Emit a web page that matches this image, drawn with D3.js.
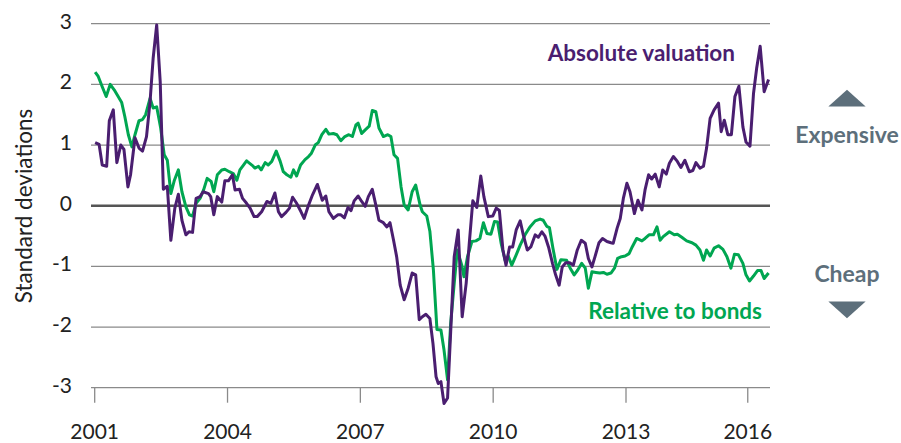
<!DOCTYPE html>
<html>
<head>
<meta charset="utf-8">
<script src="https://cdn.jsdelivr.net/npm/d3@7"></script>
<style>
  body { margin: 0; background: #fff; }
  text { font-family: Lato, "Open Sans", sans-serif; }
</style>
</head>
<body>
<div id="chart"></div>
<script>
// decimal year, standard deviations
const absolute = [[2001.01,1.04],[2001.10,1.01],[2001.17,0.67],[2001.27,0.65],[2001.33,1.40],[2001.42,1.58],[2001.50,0.71],[2001.59,1.00],[2001.66,0.93],[2001.75,0.31],[2001.81,0.51],[2001.91,1.12],[2002.00,0.95],[2002.08,0.90],[2002.17,1.14],[2002.25,1.71],[2002.32,2.43],[2002.40,2.98],[2002.48,2.04],[2002.55,0.27],[2002.64,0.32],[2002.72,-0.57],[2002.81,-0.04],[2002.89,0.19],[2002.97,-0.24],[2003.06,-0.48],[2003.13,-0.43],[2003.21,-0.44],[2003.29,0.12],[2003.38,0.15],[2003.45,0.23],[2003.57,0.20],[2003.62,0.15],[2003.69,-0.15],[2003.77,0.15],[2003.87,0.06],[2003.94,0.41],[2004.02,0.41],[2004.11,0.51],[2004.17,0.26],[2004.27,0.27],[2004.34,0.12],[2004.43,0.04],[2004.51,-0.04],[2004.60,-0.18],[2004.67,-0.18],[2004.77,-0.10],[2004.89,0.07],[2004.98,0.04],[2005.07,0.21],[2005.15,-0.10],[2005.22,-0.18],[2005.32,-0.11],[2005.40,-0.04],[2005.47,0.14],[2005.56,0.04],[2005.66,-0.10],[2005.73,-0.21],[2005.83,0.01],[2005.92,0.18],[2006.03,0.35],[2006.14,0.09],[2006.22,0.16],[2006.29,-0.10],[2006.39,-0.21],[2006.49,-0.15],[2006.56,-0.15],[2006.64,-0.20],[2006.72,-0.03],[2006.79,-0.08],[2006.86,0.08],[2006.95,0.16],[2007.03,0.07],[2007.11,-0.01],[2007.18,0.15],[2007.27,0.27],[2007.35,0.01],[2007.42,-0.24],[2007.52,-0.28],[2007.60,-0.35],[2007.67,-0.28],[2007.75,-0.57],[2007.82,-0.84],[2007.90,-1.31],[2007.99,-1.55],[2008.08,-1.36],[2008.17,-1.11],[2008.25,-1.14],[2008.33,-1.88],[2008.40,-1.83],[2008.48,-1.79],[2008.57,-1.86],[2008.64,-2.27],[2008.71,-2.82],[2008.76,-2.93],[2008.82,-2.90],[2008.89,-3.26],[2008.97,-3.17],[2009.04,-2.08],[2009.12,-0.84],[2009.21,-0.40],[2009.30,-1.83],[2009.39,-1.28],[2009.46,-0.62],[2009.54,0.08],[2009.63,-0.03],[2009.72,0.49],[2009.79,0.15],[2009.89,-0.18],[2009.99,-0.17],[2010.07,-0.04],[2010.14,-0.08],[2010.22,-0.73],[2010.29,-0.98],[2010.37,-0.68],[2010.44,-0.68],[2010.52,-0.40],[2010.61,-0.25],[2010.68,-0.48],[2010.77,-0.73],[2010.85,-0.68],[2010.95,-0.48],[2011.02,-0.52],[2011.10,-0.43],[2011.17,-0.50],[2011.25,-0.68],[2011.34,-0.95],[2011.41,-1.14],[2011.49,-1.31],[2011.56,-1.01],[2011.64,-0.94],[2011.73,-0.94],[2011.81,-0.98],[2011.90,-0.73],[2011.99,-0.57],[2012.08,-0.62],[2012.15,-0.87],[2012.23,-1.01],[2012.30,-0.84],[2012.39,-0.61],[2012.47,-0.54],[2012.57,-0.59],[2012.66,-0.61],[2012.71,-0.62],[2012.80,-0.37],[2012.87,-0.21],[2012.94,0.12],[2013.02,0.37],[2013.09,0.23],[2013.19,-0.13],[2013.27,0.09],[2013.36,-0.07],[2013.43,0.26],[2013.51,0.51],[2013.58,0.44],[2013.66,0.52],[2013.75,0.31],[2013.83,0.59],[2013.91,0.52],[2013.98,0.70],[2014.07,0.81],[2014.16,0.73],[2014.24,0.63],[2014.33,0.75],[2014.43,0.56],[2014.51,0.58],[2014.58,0.71],[2014.67,0.62],[2014.75,0.65],[2014.82,0.95],[2014.90,1.44],[2014.99,1.58],[2015.09,1.69],[2015.15,1.22],[2015.22,1.41],[2015.30,1.17],[2015.38,1.17],[2015.46,1.80],[2015.55,1.97],[2015.64,1.30],[2015.71,1.05],[2015.80,0.98],[2015.88,1.85],[2015.95,2.26],[2016.03,2.63],[2016.12,1.88],[2016.22,2.08]];

const relative = [[2001.01,2.20],[2001.08,2.13],[2001.17,1.96],[2001.26,1.80],[2001.35,2.00],[2001.44,1.91],[2001.53,1.80],[2001.61,1.70],[2001.68,1.47],[2001.76,1.17],[2001.84,0.97],[2001.91,1.17],[2002.00,1.40],[2002.08,1.42],[2002.15,1.50],[2002.25,1.77],[2002.32,1.61],[2002.40,1.63],[2002.49,1.28],[2002.57,0.84],[2002.64,0.75],[2002.72,0.20],[2002.80,0.42],[2002.89,0.59],[2002.97,0.23],[2003.06,-0.02],[2003.14,-0.15],[2003.21,-0.17],[2003.29,0.04],[2003.38,0.12],[2003.46,0.26],[2003.54,0.45],[2003.63,0.40],[2003.69,0.23],[2003.77,0.51],[2003.87,0.59],[2003.94,0.60],[2004.04,0.56],[2004.13,0.53],[2004.21,0.42],[2004.28,0.59],[2004.36,0.67],[2004.43,0.74],[2004.55,0.67],[2004.62,0.62],[2004.70,0.65],[2004.76,0.59],[2004.85,0.71],[2004.92,0.67],[2005.00,0.73],[2005.10,0.90],[2005.19,0.73],[2005.26,0.56],[2005.34,0.51],[2005.43,0.47],[2005.49,0.59],[2005.56,0.49],[2005.65,0.67],[2005.75,0.76],[2005.83,0.81],[2005.89,0.86],[2005.98,1.00],[2006.05,1.04],[2006.13,1.17],[2006.22,1.26],[2006.29,1.18],[2006.39,1.19],[2006.47,1.17],[2006.56,1.07],[2006.65,1.14],[2006.74,1.17],[2006.82,1.14],[2006.90,1.33],[2006.95,1.36],[2007.03,1.19],[2007.11,1.25],[2007.20,1.31],[2007.27,1.57],[2007.35,1.55],[2007.42,1.28],[2007.52,1.14],[2007.62,1.17],[2007.69,1.14],[2007.76,0.84],[2007.84,0.78],[2007.92,0.31],[2007.99,0.01],[2008.08,-0.07],[2008.17,0.23],[2008.25,0.34],[2008.35,0.01],[2008.40,-0.10],[2008.50,-0.17],[2008.57,-0.42],[2008.65,-1.06],[2008.73,-2.04],[2008.82,-2.05],[2008.89,-2.38],[2008.97,-2.87],[2009.04,-1.94],[2009.12,-1.28],[2009.19,-0.73],[2009.29,-0.98],[2009.34,-1.17],[2009.42,-0.84],[2009.52,-0.59],[2009.61,-0.58],[2009.70,-0.54],[2009.78,-0.28],[2009.86,-0.46],[2009.95,-0.47],[2010.03,-0.26],[2010.10,-0.27],[2010.18,-0.62],[2010.27,-0.90],[2010.34,-0.83],[2010.42,-0.98],[2010.52,-0.81],[2010.61,-0.65],[2010.72,-0.48],[2010.83,-0.35],[2010.95,-0.25],[2011.06,-0.22],[2011.13,-0.24],[2011.21,-0.34],[2011.27,-0.36],[2011.35,-0.70],[2011.44,-1.05],[2011.53,-0.89],[2011.66,-0.90],[2011.74,-1.03],[2011.83,-1.14],[2011.91,-1.06],[2012.00,-0.95],[2012.08,-1.03],[2012.15,-1.36],[2012.23,-1.09],[2012.32,-1.10],[2012.41,-1.11],[2012.49,-1.10],[2012.57,-1.13],[2012.66,-1.11],[2012.74,-1.03],[2012.81,-0.87],[2012.90,-0.84],[2012.98,-0.83],[2013.07,-0.79],[2013.14,-0.68],[2013.24,-0.54],[2013.36,-0.58],[2013.43,-0.54],[2013.52,-0.48],[2013.62,-0.48],[2013.70,-0.35],[2013.77,-0.57],[2013.84,-0.51],[2013.98,-0.43],[2014.09,-0.48],[2014.16,-0.47],[2014.26,-0.52],[2014.37,-0.58],[2014.49,-0.61],[2014.58,-0.65],[2014.67,-0.73],[2014.75,-0.90],[2014.82,-0.73],[2014.90,-0.83],[2014.99,-0.70],[2015.09,-0.66],[2015.19,-0.72],[2015.28,-0.84],[2015.37,-1.03],[2015.45,-0.80],[2015.54,-0.81],[2015.64,-0.95],[2015.71,-1.14],[2015.79,-1.24],[2015.88,-1.16],[2015.97,-1.07],[2016.05,-1.07],[2016.12,-1.20],[2016.22,-1.11]];

const yTicks = [-3, -2, -1, 0, 1, 2, 3];
const xTickYears = [2001, 2004, 2007, 2010, 2013, 2015.75];
const xTickLabels = ["2001", "2004", "2007", "2010", "2013", "2016"];

const width = 901, height = 443;
const plotLeft = 91, plotRight = 770;

const x = d3.scaleLinear().domain([2001, 2013]).range([94.7, 626]);
const y = d3.scaleLinear().domain([-3, 3]).range([387.7, 23.7]);

const svg = d3.select("#chart").append("svg")
  .attr("width", width)
  .attr("height", height);

// gridlines
svg.append("g")
  .selectAll("line")
  .data(yTicks.filter((d) => d !== 0))
  .join("line")
  .attr("x1", plotLeft)
  .attr("x2", plotRight)
  .attr("y1", (d) => y(d))
  .attr("y2", (d) => y(d))
  .attr("stroke", "#8a8a8a")
  .attr("stroke-width", 1.3);

// x ticks hanging below the bottom line
svg.append("g")
  .selectAll("line")
  .data(xTickYears)
  .join("line")
  .attr("x1", (d) => x(d))
  .attr("x2", (d) => x(d))
  .attr("y1", y(-3))
  .attr("y2", y(-3) + 15)
  .attr("stroke", "#8a8a8a")
  .attr("stroke-width", 1.3);

svg.append("g")
  .selectAll("text")
  .data(xTickYears)
  .join("text")
  .attr("x", (d) => x(d))
  .attr("y", 439)
  .attr("text-anchor", "middle")
  .attr("font-size", 21)
  .attr("fill", "#222")
  .text((d, i) => xTickLabels[i]);

svg.append("g")
  .selectAll("text")
  .data(yTicks)
  .join("text")
  .attr("x", 72)
  .attr("y", (d) => y(d) + 5)
  .attr("text-anchor", "end")
  .attr("font-size", 21)
  .attr("fill", "#222")
  .text((d) => d);

svg.append("text")
  .attr("transform", `translate(32,206) rotate(-90)`)
  .attr("text-anchor", "middle")
  .attr("font-size", 22.5)
  .attr("fill", "#222")
  .text("Standard deviations");

// zero line
svg.append("line")
  .attr("x1", plotLeft)
  .attr("x2", plotRight)
  .attr("y1", y(0))
  .attr("y2", y(0))
  .attr("stroke", "#555")
  .attr("stroke-width", 2.6);

const line = d3.line()
  .x((d) => x(d[0]))
  .y((d) => y(d[1]));

svg.append("path")
  .datum(relative)
  .attr("d", line)
  .attr("fill", "none")
  .attr("stroke", "#00a651")
  .attr("stroke-width", 3)
  .attr("stroke-linejoin", "round");

svg.append("path")
  .datum(absolute)
  .attr("d", line)
  .attr("fill", "none")
  .attr("stroke", "#4a1e70")
  .attr("stroke-width", 3)
  .attr("stroke-linejoin", "round");

// series labels
svg.append("text")
  .attr("x", 735)
  .attr("y", 61)
  .attr("text-anchor", "end")
  .attr("font-size", 22.5)
  .attr("font-weight", "bold")
  .attr("fill", "#4a1e70")
  .text("Absolute valuation");

svg.append("text")
  .attr("x", 762)
  .attr("y", 319)
  .attr("text-anchor", "end")
  .attr("font-size", 22.5)
  .attr("font-weight", "bold")
  .attr("fill", "#00a651")
  .text("Relative to bonds");

// expensive / cheap markers
const sideX = 847;
const sideColor = "#5d6f7b";

svg.append("path")
  .attr("d", d3.symbol(d3.symbolTriangle, 330))
  .attr("transform", `translate(${sideX},101) scale(1.35,0.7)`)
  .attr("fill", sideColor);

svg.append("text")
  .attr("x", sideX)
  .attr("y", 143)
  .attr("text-anchor", "middle")
  .attr("font-size", 23)
  .attr("font-weight", "bold")
  .attr("fill", sideColor)
  .text("Expensive");

svg.append("text")
  .attr("x", sideX)
  .attr("y", 282)
  .attr("text-anchor", "middle")
  .attr("font-size", 23)
  .attr("font-weight", "bold")
  .attr("fill", sideColor)
  .text("Cheap");

svg.append("path")
  .attr("d", d3.symbol(d3.symbolTriangle, 330))
  .attr("transform", `translate(${sideX},307) rotate(180) scale(1.35,0.7)`)
  .attr("fill", sideColor);
</script>
</body>
</html>
